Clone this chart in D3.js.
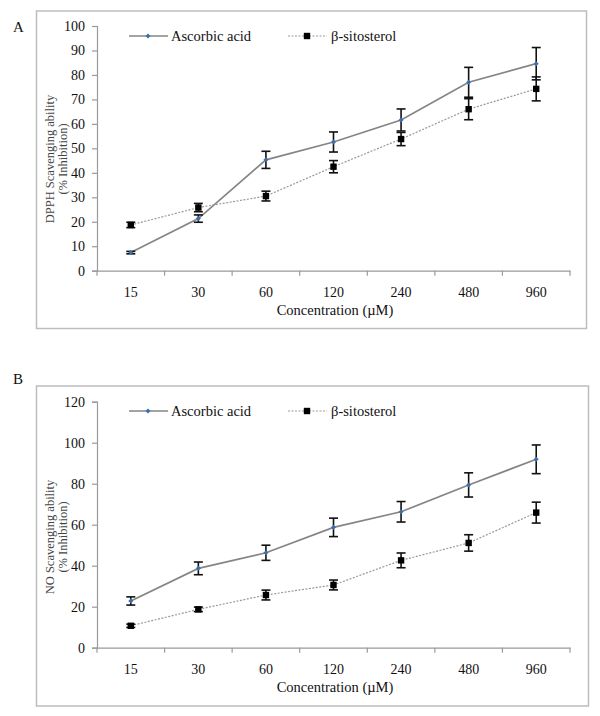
<!DOCTYPE html>
<html>
<head>
<meta charset="utf-8">
<script src="https://cdn.jsdelivr.net/npm/d3@7/dist/d3.min.js"></script>
<style>
  html, body { margin: 0; padding: 0; background: #fff; }
  svg { display: block; }
  text { font-family: "Liberation Serif", "Times New Roman", serif; }
</style>
</head>
<body>
<svg id="chart" width="600" height="716"></svg>
<script>
// ---- Data ----
const categories = ["15", "30", "60", "120", "240", "480", "960"];
const seriesNames = ["Ascorbic acid", "β-sitosterol"];

const dpphAscorbic    = [7.4, 21.3, 45.3, 52.6, 61.6, 77.0, 84.6];
const dpphAscorbicErr = [0.5, 1.5, 3.5, 4.1, 4.5, 6.1, 6.6];
const dpphSito        = [18.7, 25.8, 30.5, 42.5, 53.8, 66.0, 74.3];
const dpphSitoErr     = [1.1, 1.7, 2.0, 2.5, 2.7, 4.3, 4.9];

const noAscorbic      = [22.8, 38.7, 46.3, 58.7, 66.3, 79.4, 91.9];
const noAscorbicErr   = [2.0, 3.1, 3.7, 4.5, 5.0, 5.9, 7.0];
const noSito          = [10.7, 18.7, 25.7, 30.6, 42.6, 51.1, 65.9];
const noSitoErr       = [0.8, 1.1, 2.4, 2.4, 3.6, 4.0, 5.1];

const dpphTicks = [0, 10, 20, 30, 40, 50, 60, 70, 80, 90, 100];
const noTicks   = [0, 20, 40, 60, 80, 100, 120];

const SERIF = '"Liberation Serif", "Times New Roman", serif';
const svg = d3.select("#chart");

function drawPanel(cfg) {
  const g = svg.append("g");
  // frame
  g.append("rect")
    .attr("x", cfg.frame[0]).attr("y", cfg.frame[1])
    .attr("width", cfg.frame[2] - cfg.frame[0]).attr("height", cfg.frame[3] - cfg.frame[1])
    .attr("fill", "none").attr("stroke", "#bdbdbd").attr("stroke-width", 1.5);
  // panel letter
  g.append("text").attr("x", 13).attr("y", cfg.letterY)
    .attr("font-size", 15).attr("fill", "#111").text(cfg.letter);

  const x = d3.scaleBand().domain(categories).range([97, 570]).padding(0);
  const y = d3.scaleLinear().domain([0, cfg.max]).range([cfg.y0, cfg.yTop]);

  // y axis
  const yAxis = g.append("g").attr("transform", "translate(97,0)")
    .call(d3.axisLeft(y).tickValues(cfg.ticks).tickSize(5).tickPadding(7));
  yAxis.attr("font-family", SERIF);
  yAxis.select(".domain").attr("stroke", "#9a9a9a").attr("stroke-width", 1.2);
  yAxis.selectAll(".tick line").attr("stroke", "#9a9a9a").attr("stroke-width", 1.2);
  yAxis.selectAll(".tick text").attr("font-size", 14).attr("fill", "#111")
    .style("font-family", SERIF);

  // x axis
  const xAxis = g.append("g").attr("transform", `translate(0,${cfg.y0})`)
    .call(d3.axisBottom(x).tickSize(0).tickPadding(16).tickSizeOuter(0));
  xAxis.attr("font-family", SERIF);
  xAxis.select(".domain").attr("stroke", "#9a9a9a").attr("stroke-width", 1.2);
  xAxis.selectAll(".tick text").attr("font-size", 14).attr("fill", "#111")
    .style("font-family", SERIF);
  // boundary ticks
  const bounds = categories.map(c => x(c)).concat([x(categories[categories.length - 1]) + x.bandwidth()]);
  g.selectAll(null).data(bounds).enter().append("line")
    .attr("x1", d => d).attr("x2", d => d)
    .attr("y1", cfg.y0).attr("y2", cfg.y0 + 5)
    .attr("stroke", "#9a9a9a").attr("stroke-width", 1.2);

  // axis titles
  g.append("text").attr("x", 335).attr("y", cfg.y0 + 44)
    .attr("text-anchor", "middle").attr("font-size", 14.5).attr("fill", "#111")
    .text("Concentration (µM)");
  const yt = g.append("g").attr("transform", `translate(54,${cfg.yTitleC}) rotate(-90)`);
  yt.append("text").attr("x", 0).attr("y", 0).attr("text-anchor", "middle")
    .attr("font-size", 12.5).attr("fill", "#444").text(cfg.yTitle);
  yt.append("text").attr("x", 0).attr("y", 12.5).attr("text-anchor", "middle")
    .attr("font-size", 12.5).attr("fill", "#444").text("(% Inhibition)");

  const cx = c => x(c) + x.bandwidth() / 2;
  const line = d3.line().x(d => cx(d.c)).y(d => y(d.v));

  const series = [
    { vals: cfg.a, err: cfg.aErr, dash: null, stroke: "#858585", width: 1.7 },
    { vals: cfg.s, err: cfg.sErr, dash: "2,1.5", stroke: "#999", width: 1.2 }
  ];
  series.forEach(s => {
    const pts = categories.map((c, i) => ({ c, v: s.vals[i], e: s.err[i] }));
    g.append("path").datum(pts).attr("d", line)
      .attr("fill", "none").attr("stroke", s.stroke).attr("stroke-width", s.width)
      .attr("stroke-dasharray", s.dash);
    s.pts = pts;
  });
  // error bars
  series.forEach(s => {
    const eb = g.selectAll(null).data(s.pts).enter().append("g");
    eb.append("line").attr("x1", d => cx(d.c)).attr("x2", d => cx(d.c))
      .attr("y1", d => y(d.v - d.e)).attr("y2", d => y(d.v + d.e))
      .attr("stroke", "#111").attr("stroke-width", 1.6);
    [-1, 1].forEach(sg => {
      eb.append("line").attr("x1", d => cx(d.c) - 4.5).attr("x2", d => cx(d.c) + 4.5)
        .attr("y1", d => y(d.v + sg * d.e)).attr("y2", d => y(d.v + sg * d.e))
        .attr("stroke", "#111").attr("stroke-width", 1.6);
    });
  });
  // markers
  g.selectAll(null).data(series[1].pts).enter().append("rect")
    .attr("x", d => cx(d.c) - 3.2).attr("y", d => y(d.v) - 3.2)
    .attr("width", 6.4).attr("height", 6.4).attr("fill", "#000");
  g.selectAll(null).data(series[0].pts).enter().append("path")
    .attr("d", d3.symbol(d3.symbolDiamond2, 16))
    .attr("transform", d => `translate(${cx(d.c)},${y(d.v)})`)
    .attr("fill", "#3c6fb0");

  // legend
  const ly = cfg.legendY;
  g.append("line").attr("x1", 129).attr("x2", 168).attr("y1", ly).attr("y2", ly)
    .attr("stroke", "#858585").attr("stroke-width", 1.7);
  g.append("path").attr("d", d3.symbol(d3.symbolDiamond2, 16))
    .attr("transform", `translate(148,${ly})`).attr("fill", "#3c6fb0");
  g.append("text").attr("x", 171).attr("y", ly + 5).attr("font-size", 14.5).attr("fill", "#111")
    .text(seriesNames[0]);
  g.append("line").attr("x1", 288).attr("x2", 327).attr("y1", ly).attr("y2", ly)
    .attr("stroke", "#999").attr("stroke-width", 1.2).attr("stroke-dasharray", "2,1.5");
  g.append("rect").attr("x", 307 - 3.2).attr("y", ly - 3.2).attr("width", 6.4).attr("height", 6.4)
    .attr("fill", "#000");
  g.append("text").attr("x", 331).attr("y", ly + 5).attr("font-size", 14.5).attr("fill", "#111")
    .text(seriesNames[1]);
}

drawPanel({
  letter: "A", letterY: 32, frame: [36.5, 11, 586.5, 328.5],
  y0: 270.7, yTop: 26, max: 100, ticks: dpphTicks,
  yTitle: "DPPH Scavenging ability", yTitleC: 159, legendY: 36,
  a: dpphAscorbic, aErr: dpphAscorbicErr, s: dpphSito, sErr: dpphSitoErr
});
drawPanel({
  letter: "B", letterY: 384, frame: [36.5, 386, 588.5, 706],
  y0: 647.7, yTop: 401.7, max: 120, ticks: noTicks,
  yTitle: "NO Scavenging ability", yTitleC: 537, legendY: 411,
  a: noAscorbic, aErr: noAscorbicErr, s: noSito, sErr: noSitoErr
});
</script>
</body>
</html>
